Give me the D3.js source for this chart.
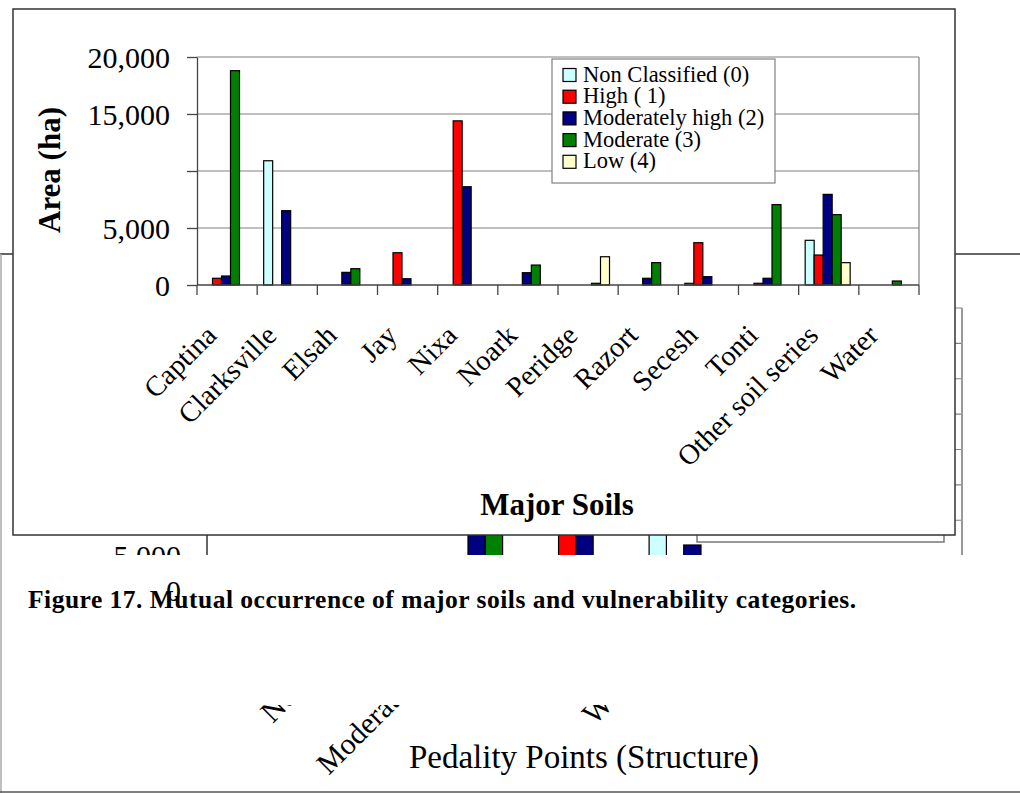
<!DOCTYPE html>
<html>
<head>
<meta charset="utf-8">
<script src="https://cdn.jsdelivr.net/npm/d3@7"></script>
<style>
  body { margin: 0; background: #fff; }
</style>
</head>
<body>
<svg id="chart" width="1020" height="793"></svg>
<script>
// ---- main chart data (area in ha)
var soils = ["Captina", "Clarksville", "Elsah", "Jay", "Nixa", "Noark", "Peridge",
             "Razort", "Secesh", "Tonti", "Other soil series", "Water"];
var classes = ["Non Classified (0)", "High ( 1)", "Moderately high (2)", "Moderate (3)", "Low (4)"];
var classColors = ["#ccffff", "#ff0000", "#000080", "#008000", "#ffffcc"];
var nonClassified = [0, 10900, 0, 0, 0, 0, 0, 0, 150, 0, 3920, 0];
var high          = [590, 0, 0, 2830, 14400, 0, 0, 0, 3710, 150, 2630, 0];
var modHigh       = [790, 6520, 1110, 550, 8620, 1080, 0, 590, 730, 590, 7950, 0];
var moderate      = [18800, 0, 1430, 0, 0, 1750, 150, 1960, 0, 7050, 6170, 350];
var low           = [0, 0, 0, 0, 0, 0, 2480, 0, 0, 0, 1960, 0];
var yTicks = [0, 5000, 10000, 15000, 20000];
var yTickLabels = ["0", "5,000", "", "15,000", "20,000"];

// ---- chart lying underneath (only fragments show)
var bgLabels = ["", "None", "Moderately", "", "Weak", "", ""];
var bgNonClassified = [0, 0, 0, 0, 9500, 0, 0];
var bgHigh          = [0, 0, 0, 11000, 0, 0, 0];
var bgModHigh       = [0, 0, 10500, 12500, 6500, 0, 0];
var bgModerate      = [0, 0, 14000, 0, 0, 0, 0];
var bgLow           = [0, 0, 0, 0, 0, 0, 0];
var bgYTicks = [0, 5000, 10000, 15000, 20000, 25000, 30000, 35000, 40000];

var series = [nonClassified, high, modHigh, moderate, low];
var bgSeries = [bgNonClassified, bgHigh, bgModHigh, bgModerate, bgLow];
var serif = "'Liberation Serif', 'Times New Roman', serif";

var svg = d3.select("#chart");
svg.append("rect").attr("width", 1020).attr("height", 793).attr("fill", "#fff");

var defs = svg.append("defs");
defs.append("clipPath").attr("id", "bgPlotClip")
  .append("rect").attr("x", 0).attr("y", 0).attr("width", 1020).attr("height", 555);
defs.append("clipPath").attr("id", "bgLabelClip")
  .append("rect").attr("x", 0).attr("y", 705).attr("width", 1020).attr("height", 88);

// ================= background chart =================
var bg = svg.append("g");
bg.append("line").attr("x1", 0).attr("x2", 1020).attr("y1", 254).attr("y2", 254)
  .attr("stroke", "#333").attr("stroke-width", 1.5);
bg.append("line").attr("x1", 1).attr("x2", 1).attr("y1", 254).attr("y2", 793)
  .attr("stroke", "#aaa").attr("stroke-width", 1.5);
bg.append("line").attr("x1", 0).attr("x2", 1020).attr("y1", 792).attr("y2", 792)
  .attr("stroke", "#555").attr("stroke-width", 1.5);

var bgX = d3.scaleBand().domain(d3.range(bgLabels.length)).range([207, 962]);
var bgX1 = d3.scaleBand().domain(d3.range(classes.length))
  .range([(bgX.bandwidth() - 86.5) / 2, (bgX.bandwidth() + 86.5) / 2]);
var bgY = d3.scaleLinear().domain([0, 40000]).range([591, 308]);

var bgPlot = bg.append("g").attr("clip-path", "url(#bgPlotClip)");
bgPlot.selectAll("line.grid").data(bgYTicks).enter().append("line")
  .attr("x1", bgX.range()[0]).attr("x2", bgX.range()[1])
  .attr("y1", function(d) { return bgY(d); }).attr("y2", function(d) { return bgY(d); })
  .attr("stroke", "#808080").attr("stroke-width", 1.2);
bgPlot.append("line").attr("x1", 962).attr("x2", 962).attr("y1", bgY(40000)).attr("y2", bgY(0))
  .attr("stroke", "#999").attr("stroke-width", 2);
bgPlot.append("line").attr("x1", 207).attr("x2", 207).attr("y1", bgY(40000)).attr("y2", bgY(0))
  .attr("stroke", "#333").attr("stroke-width", 1.5);

bgSeries.forEach(function(vals, s) {
  bgPlot.selectAll("rect.s" + s).data(vals).enter().append("rect")
    .attr("x", function(d, i) { return bgX(i) + bgX1(s); })
    .attr("width", bgX1.bandwidth())
    .attr("y", function(d) { return bgY(d); })
    .attr("height", function(d) { return bgY(0) - bgY(d); })
    .attr("fill", classColors[s]).attr("stroke", "#000").attr("stroke-width", 1.2)
    .style("display", function(d) { return d > 0 ? null : "none"; });
});

bg.selectAll("text.bgy").data(bgYTicks).enter().append("text")
  .attr("x", 181).attr("y", function(d) { return bgY(d) + 10; })
  .attr("text-anchor", "end").style("font-family", serif).style("font-size", "30px")
  .attr("clip-path", function(d) { return d === 0 ? null : "url(#bgPlotClip)"; })
  .text(function(d) { return d3.format(",")(d); });

bg.append("g").attr("clip-path", "url(#bgLabelClip)")
  .selectAll("text").data(bgLabels).enter().append("text")
  .attr("transform", function(d, i) {
    return "translate(" + (bgX(i) + bgX.bandwidth() / 2 - 50) + ",678) rotate(-45)";
  })
  .attr("text-anchor", "end").style("font-family", serif).style("font-size", "30px")
  .text(function(d) { return d; });

bg.append("rect").attr("x", 697).attr("y", 400).attr("width", 247).attr("height", 142)
  .attr("fill", "#fff").attr("stroke", "#777").attr("stroke-width", 1.5);

bg.append("text").attr("x", 584).attr("y", 768).attr("text-anchor", "middle")
  .style("font-family", serif).style("font-size", "33px").text("Pedality Points (Structure)");

// ================= main chart =================
var main = svg.append("g");
main.append("rect").attr("x", 13).attr("y", 9).attr("width", 942).attr("height", 526)
  .attr("fill", "#fff").attr("stroke", "#333").attr("stroke-width", 1.5);

var x0 = d3.scaleBand().domain(soils).range([197, 919]);
var x1 = d3.scaleBand().domain(d3.range(classes.length)).range([6.5, 51.5]);
var y = d3.scaleLinear().domain([0, 20000]).range([285, 57]);

main.selectAll("line.grid").data(yTicks.slice(1)).enter().append("line")
  .attr("x1", 197).attr("x2", 919)
  .attr("y1", function(d) { return y(d); }).attr("y2", function(d) { return y(d); })
  .attr("stroke", "#808080").attr("stroke-width", 1.2);
main.append("line").attr("x1", 919).attr("x2", 919).attr("y1", y(20000)).attr("y2", y(0))
  .attr("stroke", "#808080").attr("stroke-width", 1.2);

series.forEach(function(vals, s) {
  main.selectAll("rect.s" + s).data(vals).enter().append("rect")
    .attr("x", function(d, i) { return x0(soils[i]) + x1(s); })
    .attr("width", x1.bandwidth())
    .attr("y", function(d) { return y(d); })
    .attr("height", function(d) { return y(0) - y(d); })
    .attr("fill", classColors[s]).attr("stroke", "#000").attr("stroke-width", 1.2)
    .style("display", function(d) { return d > 0 ? null : "none"; });
});

var yAxis = main.append("g").attr("transform", "translate(197,0)")
  .call(d3.axisLeft(y).tickValues(yTicks)
    .tickFormat(function(d, i) { return yTickLabels[i]; })
    .tickSize(10).tickSizeOuter(0).tickPadding(17));
yAxis.selectAll("path, line").attr("stroke", "#444").attr("stroke-width", 1.3);
yAxis.selectAll("text").style("font-family", serif).style("font-size", "30px")
  .attr("dy", "0.34em").attr("fill", "#000");

// category separators below the base line
var sepPos = soils.map(function(d) { return x0(d); }).concat([x0.range()[1]]);
main.append("line").attr("x1", 197).attr("x2", 919).attr("y1", y(0)).attr("y2", y(0))
  .attr("stroke", "#444").attr("stroke-width", 1.3);
main.selectAll("line.sep").data(sepPos).enter().append("line")
  .attr("x1", function(d) { return d; }).attr("x2", function(d) { return d; })
  .attr("y1", y(0)).attr("y2", y(0) + 10)
  .attr("stroke", "#444").attr("stroke-width", 1.3);

main.selectAll("text.cat").data(soils).enter().append("text")
  .attr("transform", function(d) {
    return "translate(" + (x0(d) + x0.bandwidth() / 2 - 9) + ",337) rotate(-45)";
  })
  .attr("text-anchor", "end").style("font-family", serif).style("font-size", "28.5px")
  .text(function(d) { return d; });

main.append("text").attr("transform", "translate(60,170) rotate(-90)")
  .attr("text-anchor", "middle").style("font-family", serif).style("font-size", "31px")
  .style("font-weight", "bold").text("Area (ha)");
main.append("text").attr("x", 557).attr("y", 515).attr("text-anchor", "middle")
  .style("font-family", serif).style("font-size", "31px").style("font-weight", "bold")
  .text("Major Soils");

// legend
var legend = main.append("g");
legend.append("rect").attr("x", 552).attr("y", 59).attr("width", 223).attr("height", 124)
  .attr("fill", "#fff").attr("stroke", "#808080").attr("stroke-width", 1.2);
var rows = legend.selectAll("g.row").data(classes).enter().append("g")
  .attr("transform", function(d, i) { return "translate(0," + (81.5 + i * 21.7) + ")"; });
rows.append("rect").attr("x", 563).attr("y", -13).attr("width", 13).attr("height", 13)
  .attr("fill", function(d, i) { return classColors[i]; })
  .attr("stroke", "#000").attr("stroke-width", 1.2);
rows.append("text").attr("x", 583).attr("y", 0)
  .style("font-family", serif).style("font-size", "22.5px")
  .text(function(d) { return d; });

// caption
svg.append("text").attr("x", 28).attr("y", 608)
  .style("font-family", serif).style("font-size", "25.5px").style("font-weight", "bold")
  .attr("textLength", 828).attr("lengthAdjust", "spacing")
  .text("Figure 17. Mutual occurrence of major soils and vulnerability categories.");
</script>
</body>
</html>
